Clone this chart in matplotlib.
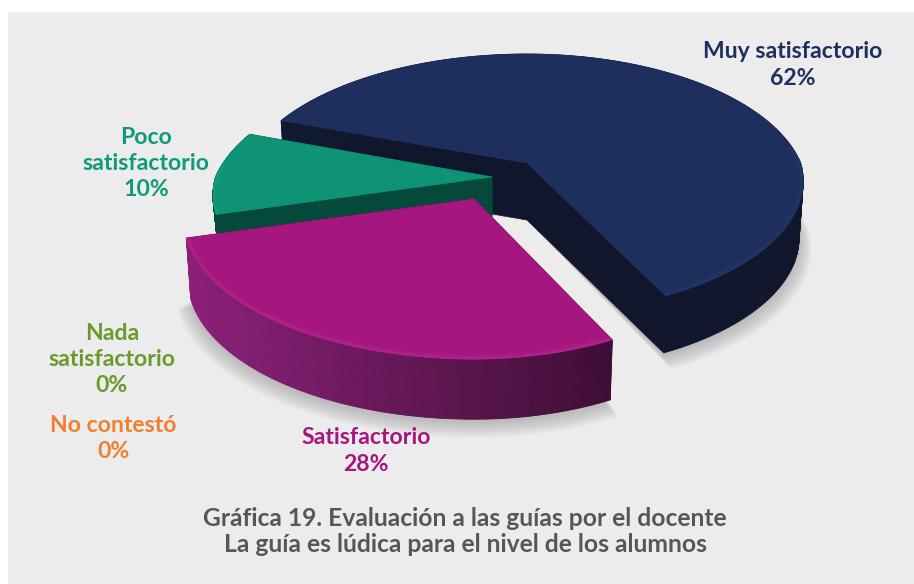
import numpy as np
import matplotlib
matplotlib.use("Agg")
import matplotlib.pyplot as plt
from matplotlib.patches import Polygon, Rectangle
from matplotlib.colors import to_rgb

# ---- data ----
categories = ["Muy satisfactorio", "Poco\nsatisfactorio", "Satisfactorio", "Nada\nsatisfactorio", "No contestó"]
values = [62, 10, 28, 0, 0]
title_lines = ["Gráfica 19. Evaluación a las guías por el docente",
               "La guía es lúdica para el nivel de los alumnos"]

# ---- style ----
label_colors = ["#1f2f5f", "#0f9a7c", "#a5177f", "#6a9a2a", "#f07f30"]
top_colors = ["#1e2f5e", "#0e9376", "#a5177f"]
wall_left = ["#12182f", "#04493a", "#8c2079"]
wall_right = ["#10162c", "#04493a", "#3e0e35"]
rim_colors = ["#25406f", "#19a587", "#b8339a"]
apexes = [(527, 163), (492, 177), (474, 199)]
radius = [1.01, 1.02, 1.06]
x_left = [1.025, 1.0, 1.0]
x_right = [1.0, 1.0, 0.94]
depth = [57, 40, 60]
label_pos = [(793, 52), (146, 137), (366, 438), (112, 333), (113, 425)]
start_angle = -63.4
A, B, P = 271.0, 130.0, 0.203
SHRINK = 0.07
LINE = 26.5
FONT = "Lato"

fig = plt.figure(figsize=(9.14, 5.84), dpi=100, facecolor="white")
ax = fig.add_axes([0, 0, 1, 1])
ax.set_xlim(0, 914)
ax.set_ylim(584, 0)
ax.axis("off")
ax.add_patch(Rectangle((8, 12), 906, 572, fc="#ececec", ec="none", zorder=0))


def sector(i, r, a0, a1, n=240):
    theta = np.radians(np.linspace(a0, a1, n))
    s = 1 - SHRINK * np.maximum(0, -np.sin(theta))
    X, Y = r * s * np.cos(theta), r * s * np.sin(theta)
    w = 1 + P * Y
    dx = A * X / w
    dx = np.where(dx < 0, dx * x_left[i], dx * x_right[i])
    return apexes[i][0] + dx, apexes[i][1] - B * Y / w


# spans from the values
total = sum(values)
spans = []
a = start_angle
for v in values[:3]:
    spans.append((a, a + 360.0 * v / total))
    a += 360.0 * v / total


def lower(apex, x, y, h):
    return apex[0] + (x - apex[0]) * 0.985, y + h


# soft shadow under the pie
for k in range(14):
    g = 1 + k * 0.0035
    for i in (0, 2):
        ap = apexes[i]
        x, y = sector(i, radius[i] * g, *spans[i])
        bx, by = lower(ap, x, y, depth[i] + 3 + k * 0.5)
        ax.add_patch(Polygon(np.r_[[[ap[0], ap[1] + depth[i]]], np.c_[bx, by]],
                             fc="#555555", ec="none", alpha=0.024, zorder=1))

z = 2
for i in range(3):
    ap = apexes[i]
    x, y = sector(i, radius[i], *spans[i])
    bx, by = lower(ap, x, y, depth[i])
    cl, cr = np.array(to_rgb(wall_left[i])), np.array(to_rgb(wall_right[i]))
    xmin, xmax = x.min(), x.max()
    # straight side walls
    for qx, qy in ((x[0], y[0]), (x[-1], y[-1])):
        qbx, qby = lower(ap, np.array(qx), np.array(qy), depth[i])
        ax.add_patch(Polygon([ap, (qx, qy), (qbx, qby), (ap[0], ap[1] + depth[i])],
                             fc=wall_right[i], ec=wall_right[i], lw=0.5, zorder=z))
    # curved wall as strips, shaded left to right
    for j in range(len(x) - 1):
        t = (x[j] - xmin) / max(xmax - xmin, 1)
        col = cl * (1 - t) + cr * t
        ax.add_patch(Polygon([(x[j], y[j]), (x[j + 1], y[j + 1]), (bx[j + 1], by[j + 1]), (bx[j], by[j])],
                             fc=col, ec=col, lw=0.6, zorder=z))
    # top surface
    top = Polygon(np.r_[[ap], np.c_[x, y]], fc=top_colors[i], ec=top_colors[i], lw=0.5, zorder=z + 1)
    ax.add_patch(top)
    # soft lighter rim on the front part, kept inside the top surface
    th = np.linspace(*spans[i], 240)
    front = np.sin(np.radians(th)) < 0.12
    for lw, al in ((7, 0.12), (4.5, 0.18), (2.5, 0.3)):
        line, = ax.plot(x[front], y[front], color=rim_colors[i], lw=lw, alpha=al, zorder=z + 1,
                        solid_capstyle="butt")
        line.set_clip_path(top)
    z += 3

# labels
for name, v, c, (lx, ly) in zip(categories, values, label_colors, label_pos):
    lines = name.split("\n") + [f"{v}%"]
    for n, s in enumerate(lines):
        ax.text(lx, ly + n * LINE, s, color=c, family=FONT, fontweight="bold", fontsize=16.6,
                ha="center", va="center", zorder=30)

for n, s in enumerate(title_lines):
    ax.text(465, 518 + n * 26, s, color="#565656", family=FONT, fontweight="bold", fontsize=17.7,
            ha="center", va="center", zorder=30)

fig.savefig("out.png", dpi=100, facecolor="white")
